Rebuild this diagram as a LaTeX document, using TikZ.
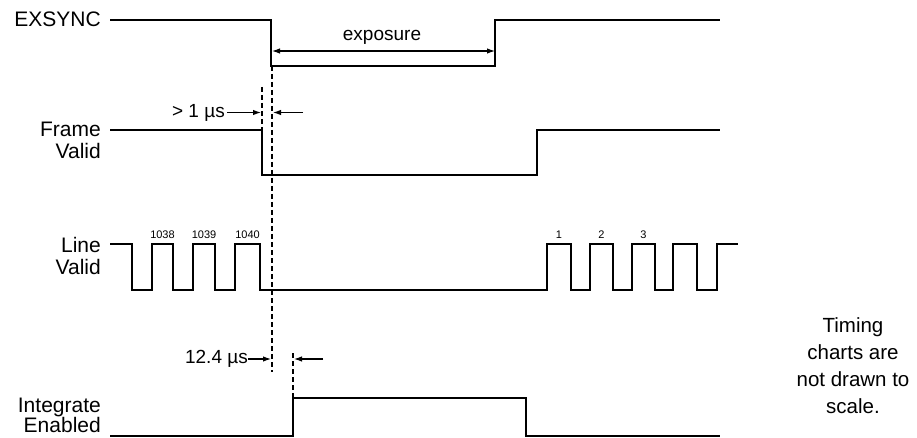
\documentclass[tikz,border=0pt]{standalone}
\usepackage{fontspec}
\setmainfont{Liberation Sans}
\usepackage{tikz}
\usetikzlibrary{arrows.meta,positioning}

\begin{document}
\begin{tikzpicture}[x=1pt, y=-1pt,
  wave/.style={line width=2.5pt, line join=miter},
  guide/.style={line width=1.2pt, dash pattern=on 5pt off 3pt},
  dim/.style={-{Latex[length=8pt,width=5.5pt]}, line width=1.1pt},
  lbl/.style={anchor=east, align=right, inner sep=0pt,
    font=\fontsize{21}{22}\selectfont},
  txt/.style={inner sep=0pt, font=\fontsize{19}{22}\selectfont},
  num/.style={inner sep=0pt, font=\fontsize{11}{12}\selectfont}]
  \useasboundingbox (0,0) rectangle (917,438);

  % signal names
  \node[lbl] (exsync) at (101,19) {EXSYNC};
  \node[lbl] (fval) at (101,140) {Frame\\Valid};
  \node[lbl] (lval) at (101,256) {Line\\Valid};
  \node[lbl, font=\fontsize{21}{20}\selectfont] (integ) at (101,415) {Integrate\\Enabled};

  % waveforms
  \draw[wave] (110,20) -- (271,20) -- (271,66) -- (495,66) -- (495,20) -- (720,20);
  \draw[wave] (110,130) -- (262,130) -- (262,175) -- (537,175) -- (537,130) -- (720,130);
  \draw[wave] (110,244) -- (132,244) -- (132,290) -- (152,290) -- (152,244)
    -- (173,244) -- (173,290) -- (193,290) -- (193,244) -- (215,244) -- (215,290)
    -- (235,290) -- (235,244) -- (260,244) -- (260,290) -- (547,290) -- (547,244)
    -- (571,244) -- (571,290) -- (590,290) -- (590,244) -- (613,244) -- (613,290)
    -- (632,290) -- (632,244) -- (655,244) -- (655,290) -- (673,290) -- (673,244)
    -- (697,244) -- (697,290) -- (717,290) -- (717,244) -- (738,244);
  \draw[wave] (110,436) -- (293,436) -- (293,398) -- (526,398) -- (526,436) -- (720,436);

  % line numbers
  \node[num] (n1038) at (162.5,235) {1038};
  \node[num] (n1039) at (204,235) {1039};
  \node[num] (n1040) at (247.5,235) {1040};
  \node[num] (n1) at (559,235) {1};
  \node[num] (n2) at (601.5,235) {2};
  \node[num] (n3) at (643.5,235) {3};

  % dashed guides
  \coordinate (gexa) at (272,66);
  \coordinate (gexb) at (272,372);
  \coordinate (gfva) at (262,87);
  \coordinate (gfvb) at (262,130);
  \coordinate (gina) at (293,353);
  \coordinate (ginb) at (293,398);
  \draw[guide] (gexa) -- (gexb);
  \draw[guide] (gfva) -- (gfvb);
  \draw[guide] (gina) -- (ginb);

  % exposure
  \coordinate (expl) at (272,51);
  \coordinate (expr) at (495,51);
  \draw[dim, {Latex[length=8pt,width=5.5pt]}-{Latex[length=8pt,width=5.5pt]}] (expl) -- (expr);
  \node[txt] (expo) at (382,37) {exposure};

  % > 1 us
  \node[txt, anchor=east] (dly) at (225,112.5) {> 1 µs};
  \coordinate (dlyh) at (261,112.5);
  \coordinate (dlyt) at (303,112.5);
  \coordinate (dlyg) at (273,112.5);
  \draw[dim] (dly.east) ++(2,0) coordinate (dlys) (dlys) -- (dlyh);
  \draw[dim] (dlyt) -- (dlyg);

  % 12.4 us
  \node[txt, anchor=east] (intd) at (248,359) {12.4 µs};
  \coordinate (intdh) at (271,359);
  \coordinate (intdt) at (323,359);
  \coordinate (intdg) at (294,359);
  \draw[dim] (intd.east) -- (intdh);
  \draw[dim] (intdt) -- (intdg);

  % note
  \node[align=center, inner sep=0pt, font=\fontsize{20.5}{27}\selectfont]
    (note) at (853,366) {Timing\\charts are\\not drawn to\\scale.};
\end{tikzpicture}
\end{document}
